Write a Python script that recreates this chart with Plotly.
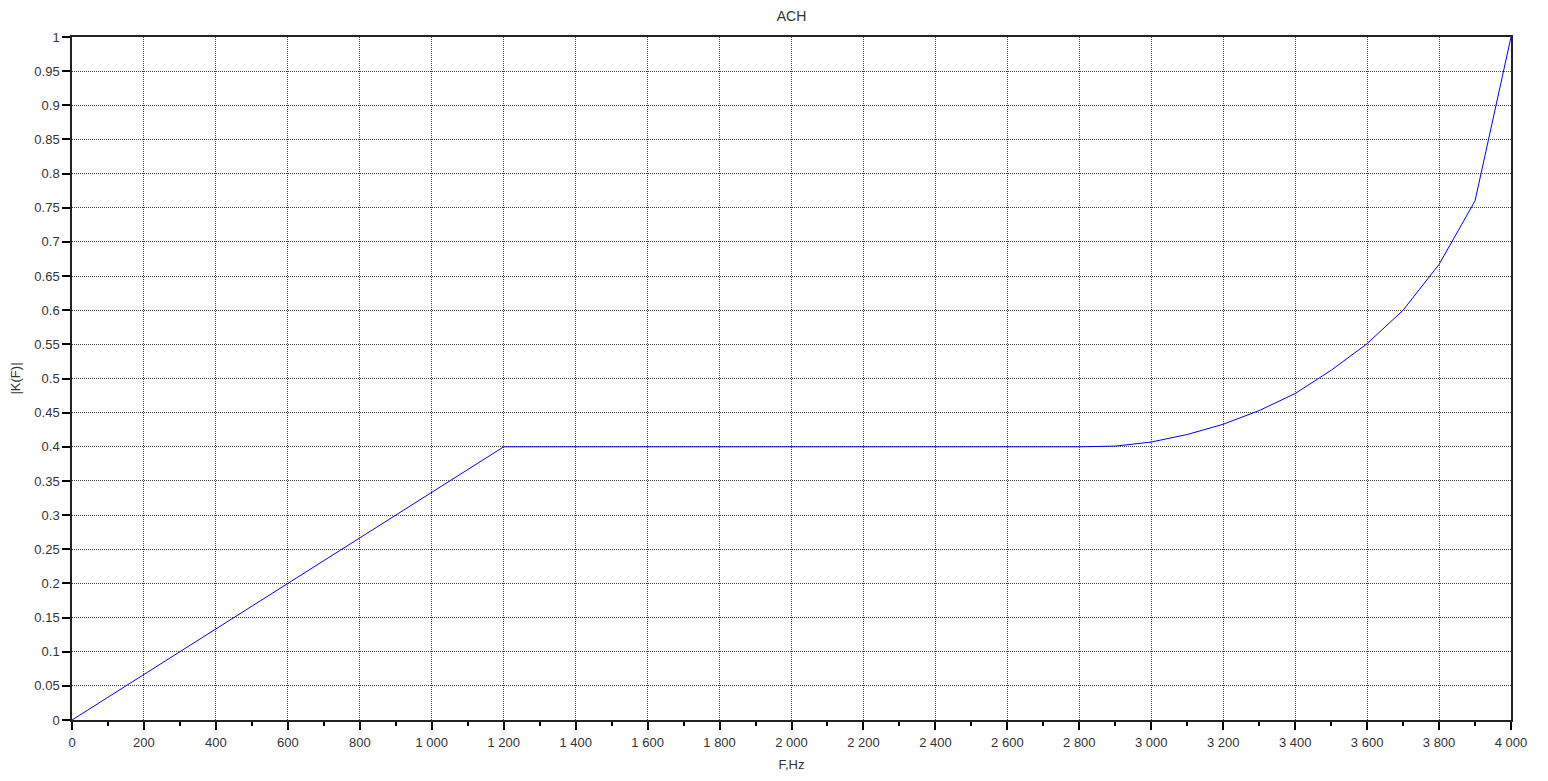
import plotly.graph_objects as go

freq = [0, 1200, 2800, 2900, 3000, 3100, 3200, 3300, 3400, 3500, 3600, 3700, 3800, 3900, 4000]
gain = [0.0, 0.4, 0.4, 0.401, 0.407, 0.418, 0.433, 0.453, 0.478, 0.512, 0.551, 0.600, 0.667, 0.760, 1.0]

x_ticks = list(range(0, 4001, 200))
x_labels = [f"{v:,}".replace(",", " ") for v in x_ticks]
y_ticks = [round(i * 0.05, 2) for i in range(21)]
y_labels = [("%g" % v) for v in y_ticks]

fig = go.Figure()
fig.add_trace(go.Scatter(x=freq, y=gain, mode="lines",
                         line=dict(color="#0000ff", width=1), showlegend=False))

fnt = dict(family="Liberation Sans, Arial, sans-serif", size=13, color="#333333")

W, H = 1540, 773
fig.update_layout(
    width=W, height=H,
    margin=dict(l=64, r=37, t=29, b=61),
    paper_bgcolor="white", plot_bgcolor="white",
    font=fnt,
    title=dict(text="ACH", x=0.5, xref="paper", xanchor="center", y=1.0, yanchor="top",
               pad=dict(t=3),
               font=dict(family="Liberation Sans, Arial, sans-serif", size=14, color="#333333")),
)
fig.update_xaxes(
    range=[0, 4000], tickvals=x_ticks, ticktext=x_labels, automargin=False,
    showgrid=True, gridcolor="#444444", griddash="1px,1px", gridwidth=1,
    showline=True, linecolor="#222222", linewidth=1.5, mirror=True,
    ticks="outside", ticklen=8, tickcolor="#000000", tickwidth=1.5,
    ticklabelstandoff=2,
    minor=dict(dtick=100, tick0=0, ticks="outside", ticklen=4, tickcolor="#000000", showgrid=False),
    zeroline=False,
    title=dict(text="F,Hz", standoff=11, font=fnt),
)
fig.update_yaxes(
    range=[0, 1], tickvals=y_ticks, ticktext=y_labels, automargin=False,
    showgrid=True, gridcolor="#444444", griddash="1px,1px", gridwidth=1,
    showline=True, linecolor="#222222", linewidth=1.5, mirror=True,
    ticks="outside", ticklen=8, tickcolor="#000000", tickwidth=1.5,
    zeroline=False,
    title=dict(text="|K(F)|", standoff=12, font=fnt),
)

fig.write_html("out.html")
